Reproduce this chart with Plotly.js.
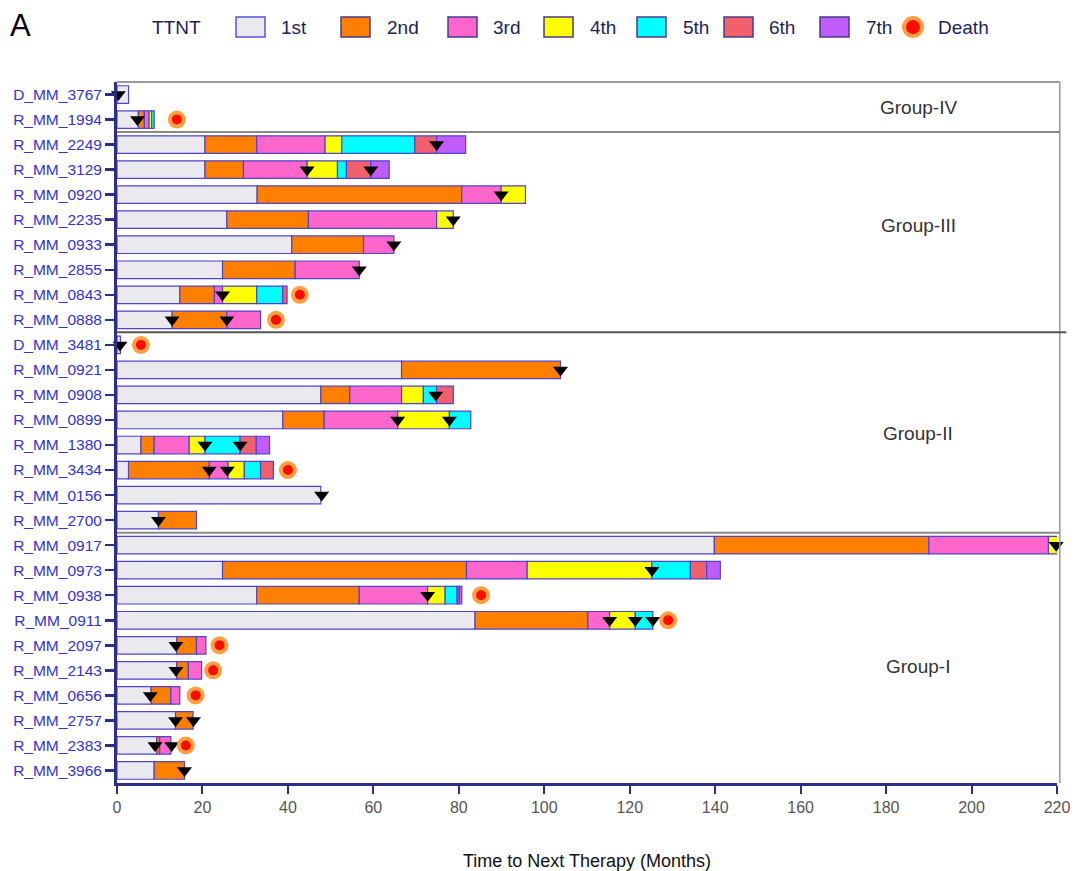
<!DOCTYPE html>
<html><head><meta charset="utf-8">
<script src="https://cdn.plot.ly/plotly-3.0.1.min.js"></script>
<style>html,body{margin:0;padding:0;background:#fff}</style>
</head><body><div id="chart" style="width:1075px;height:871px"></div>
<script>
// ---- data (months) ----
const patients = ['D_MM_3767','R_MM_1994','R_MM_2249','R_MM_3129','R_MM_0920','R_MM_2235','R_MM_0933','R_MM_2855','R_MM_0843','R_MM_0888',
  'D_MM_3481','R_MM_0921','R_MM_0908','R_MM_0899','R_MM_1380','R_MM_3434','R_MM_0156','R_MM_2700',
  'R_MM_0917','R_MM_0973','R_MM_0938','R_MM_0911','R_MM_2097','R_MM_2143','R_MM_0656','R_MM_2757','R_MM_2383','R_MM_3966'];
// cumulative end time of each line of therapy (1st, 2nd, ... 7th)
const ttntEnds = [
  [2.7],
  [5.0, 6.4, 7.5, 8.1, 8.7],
  [20.6, 32.7, 48.7, 52.6, 69.7, 74.8, 81.6],
  [20.6, 29.6, 44.5, 51.6, 53.7, 59.4, 63.7],
  [32.8, 80.7, 89.9, 95.6],
  [25.7, 44.8, 74.8, 78.7],
  [40.9, 57.7, 64.8],
  [24.7, 41.7, 56.7],
  [14.7, 22.8, 24.7, 32.7, 38.8, 39.8],
  [12.9, 25.7, 33.6],
  [0.8],
  [66.6, 103.8],
  [47.7, 54.5, 66.6, 71.7, 74.8, 78.7],
  [38.8, 48.5, 65.7, 77.8, 82.8],
  [5.6, 8.7, 16.9, 20.6, 28.8, 32.6, 35.7],
  [2.7, 21.6, 26.0, 29.8, 33.6, 36.6],
  [47.7],
  [9.7, 18.6],
  [139.8, 190.0, 218.0, 221.0],
  [24.7, 81.8, 96.0, 125.2, 134.2, 138.0, 141.2],
  [32.7, 56.7, 72.7, 76.8, 79.6, 80.1, 80.7],
  [83.8, 110.2, 115.3, 121.3, 125.4],
  [14.0, 18.6, 20.8],
  [14.0, 16.7, 19.8],
  [8.0, 12.6, 14.7],
  [13.7, 17.8],
  [9.3, 10.0, 12.6],
  [8.7, 15.8]
];
const arrowTimes = [
  [0.3],[4.8],[74.8],[44.5,59.4],[89.9],[78.7],[64.8],[56.7],[24.7],[12.9,25.7],
  [0.7],[103.8],[74.6],[65.7,77.8],[20.6,28.8],[21.6,25.8],[47.9],[9.7],
  [219.8],[125.2],[72.7],[115.3,121.3,125.4],[13.8],[13.8],[7.8],[13.7,17.9],[8.9,12.8],[15.8]
];
const deathTimes = [null,14.0,null,null,null,null,null,null,42.8,37.2,
  5.6,null,null,null,null,40.0,null,null,
  null,null,85.2,129.0,24.0,22.5,18.4,null,16.1,null];
const lineNames = ['1st','2nd','3rd','4th','5th','6th','7th'];
const lineColors = ['#EAEAEE','#FF7F00','#FF66CC','#FFFF00','#00FFFF','#F2616B','#BF5CFA'];
const groupNames = ['Group-IV','Group-III','Group-II','Group-I'];
const groupFirstRow = [0, 2, 10, 18];
const xTicks = [0,20,40,60,80,100,120,140,160,180,200,220];

// ---- layout geometry ----
const W = 1075, H = 871, ML = 117, MR = 18, MT = 82, MB = 88;
const PW = W - ML - MR, PH = H - MT - MB;
const px2x = p => (p - ML) / PW;
const py2y = p => (H - MB - p) / PH;
const groupLabelY = [0.5, 5.25, 13.55, 22.85];

const traces = [];
lineNames.forEach((nm, k) => {
  const ys = [], xs = [], bases = [];
  ttntEnds.forEach((ends, i) => {
    if (ends.length > k) {
      const start = k === 0 ? 0 : ends[k - 1];
      ys.push(i); bases.push(start); xs.push(ends[k] - start);
    }
  });
  traces.push({type:'bar', orientation:'h', y: ys, x: xs, base: bases, width: 0.7, name: nm,
    marker:{color: lineColors[k], line:{color:'#4F44CC', width:1.2}}, showlegend:false, hoverinfo:'skip'});
});
const ax = [], ay = [];
arrowTimes.forEach((arr, i) => arr.forEach(t => { ax.push(t); ay.push(i); }));
traces.push({type:'scatter', mode:'markers', x: ax, y: ay, showlegend:false, hoverinfo:'skip',
  marker:{symbol:'triangle-down', size:13, color:'#000'}, cliponaxis:false});
const dx = [], dy = [];
deathTimes.forEach((t, i) => { if (t !== null) { dx.push(t); dy.push(i); } });
traces.push({type:'scatter', mode:'markers', x: dx, y: dy, showlegend:false, hoverinfo:'skip',
  marker:{symbol:'circle', size:14, color:'#FF0A00', line:{color:'#FFA040', width:4}}});

const shapes = [], annotations = [];
// frame top & right
shapes.push({type:'line', xref:'paper', yref:'paper', x0:0, x1:1.003, y0:1, y1:1, line:{color:'#9a9a9a', width:2}});
shapes.push({type:'line', xref:'paper', yref:'paper', x0:1.003, x1:1.003, y0:0, y1:1, line:{color:'#9a9a9a', width:1.5}});
// group separators
groupFirstRow.slice(1).forEach((r, j) => {
  shapes.push({type:'line', xref:'paper', yref:'y', x0:0, x1: j === 1 ? 1.01 : 1.003, y0:r - 0.5, y1:r - 0.5,
    line:{color: j === 1 ? '#555' : '#8a8a8a', width:2}});
});
groupNames.forEach((g, j) => {
  annotations.push({xref:'x', yref:'y', x:187.5, y:groupLabelY[j], text:g, showarrow:false,
    font:{size:19, color:'#333', family:'Liberation Sans, Arial, sans-serif'}});
});
// panel letter
annotations.push({xref:'paper', yref:'paper', x:px2x(8), y:py2y(25), xanchor:'left', yanchor:'middle', text:'A',
  showarrow:false, font:{size:31, color:'#000', family:'Liberation Sans, Arial, sans-serif'}});
// custom legend
const legFont = {size:19, color:'#1E1E5A', family:'Liberation Sans, Arial, sans-serif'};
const legY = py2y(27);
const boxLeft = [236, 341, 448, 544, 637, 724, 820];
const textLeft = [279, 385, 491, 588, 681, 767, 864];
annotations.push({xref:'paper', yref:'paper', x:px2x(150), y:legY, xanchor:'left', yanchor:'middle', text:'TTNT', showarrow:false, font:legFont});
lineNames.forEach((nm, k) => {
  shapes.push({type:'rect', xref:'paper', yref:'paper', x0:px2x(boxLeft[k]), x1:px2x(boxLeft[k] + 29),
    y0:py2y(37), y1:py2y(17), fillcolor:lineColors[k], line:{color: k === 0 ? '#5B50E0' : '#4a3a8a', width:1.5}});
  annotations.push({xref:'paper', yref:'paper', x:px2x(textLeft[k]), y:legY, xanchor:'left', yanchor:'middle', text:nm, showarrow:false, font:legFont});
});
shapes.push({type:'circle', xref:'paper', yref:'paper', x0:px2x(904), x1:px2x(922), y0:py2y(36), y1:py2y(18),
  fillcolor:'#FF0A00', line:{color:'#FFA040', width:4}});
annotations.push({xref:'paper', yref:'paper', x:px2x(936), y:legY, xanchor:'left', yanchor:'middle', text:'Death', showarrow:false, font:legFont});

const layout = {
  width: W, height: H, margin:{l:ML, r:MR, t:MT, b:MB, pad:0},
  paper_bgcolor:'#fff', plot_bgcolor:'#fff', barmode:'overlay', showlegend:false,
  font:{family:'Liberation Sans, Arial, sans-serif'},
  xaxis:{range:[0,220], tickvals:xTicks, showgrid:false, zeroline:false, showline:true, linecolor:'#2E2E86', linewidth:3,
    ticks:'outside', ticklen:8, tickwidth:2, tickcolor:'#2E2E86', tickfont:{size:16, color:'#555'},
    title:{text:'Time to Next Therapy (Months)', font:{size:18, color:'#111'}, standoff:40}},
  yaxis:{range:[patients.length - 0.5, -0.5], tickvals: patients.map((_, i) => i), ticktext: patients,
    showgrid:false, zeroline:false, showline:true, linecolor:'#2E2E86', linewidth:3,
    ticks:'outside', ticklen:9, tickwidth:2.5, tickcolor:'#2E2E86', tickfont:{size:15.5, color:'#3333CC'}},
  shapes: shapes, annotations: annotations
};
Plotly.newPlot('chart', traces, layout, {displayModeBar:false, staticPlot:true});
</script></body></html>
